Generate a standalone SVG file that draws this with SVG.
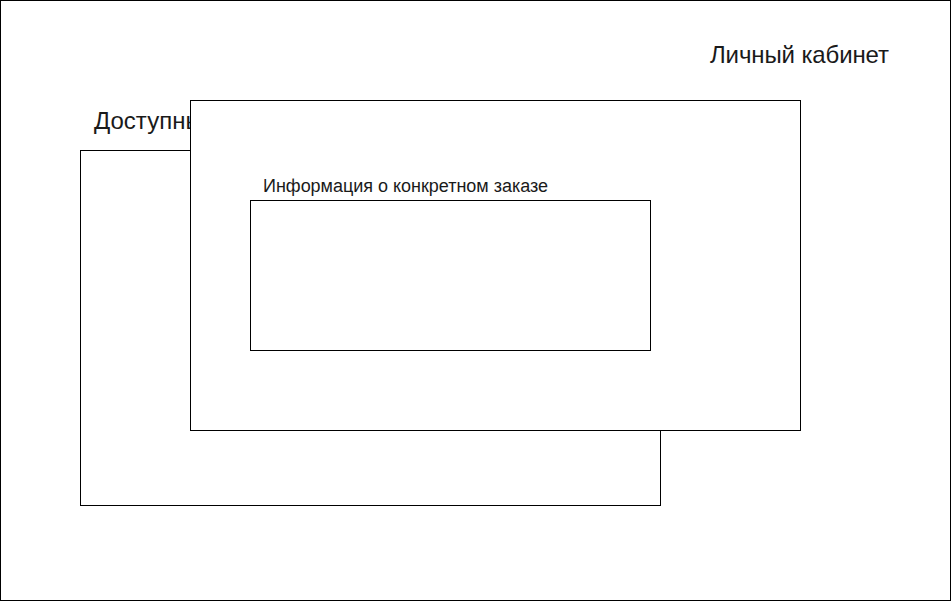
<svg xmlns="http://www.w3.org/2000/svg" width="951" height="601" viewBox="0 0 951 601">
<style>
.box{fill:#fff;stroke:#000;stroke-width:1}
.t{font-family:"Liberation Sans",Arial,sans-serif;fill:#1a1a1a}
</style>
<g id="cabinet">
<rect class="box" x="0.5" y="0.5" width="950" height="600"/>
<text class="t" x="710" y="63" font-size="24" textLength="179">Личный кабинет</text>
</g>
<g id="available">
<text class="t" x="94" y="129" font-size="24">Доступные</text>
<rect class="box" x="80.5" y="150.5" width="580" height="355"/>
</g>
<g id="order">
<rect class="box" x="190.5" y="100.5" width="610" height="330"/>
</g>
<g id="info">
<text class="t" x="263" y="192" font-size="18" textLength="285">Информация о конкретном заказе</text>
<rect class="box" x="250.5" y="200.5" width="400" height="150"/>
</g>
<g id="connectors"/>
</svg>
